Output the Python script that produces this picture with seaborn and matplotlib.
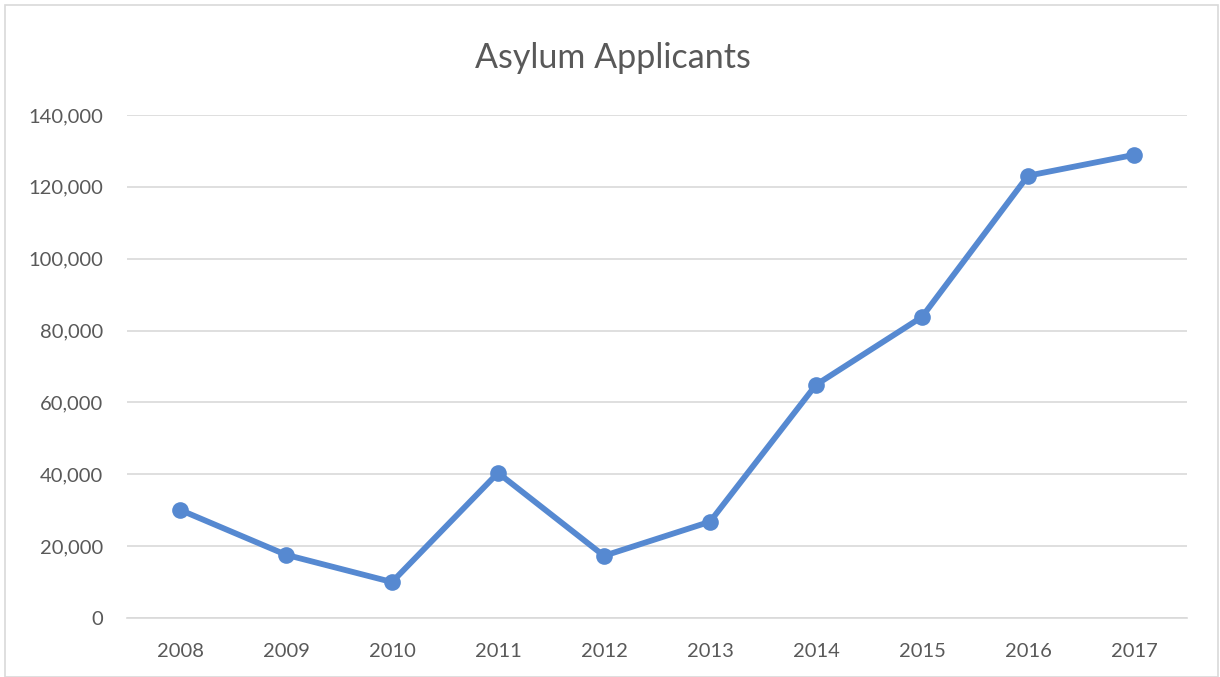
import matplotlib
matplotlib.use("Agg")
import matplotlib.pyplot as plt
import seaborn as sns
import pandas as pd
from matplotlib.ticker import FuncFormatter
from matplotlib.patches import Rectangle

years = [2008, 2009, 2010, 2011, 2012, 2013, 2014, 2015, 2016, 2017]
applicants = [30100, 17600, 10000, 40400, 17300, 26800, 64900, 83800, 123100, 128900]
y_ticks = [0, 20000, 40000, 60000, 80000, 100000, 120000, 140000]
title = "Asylum Applicants"

sns.set_theme(style="white")
plt.rcParams['font.family'] = ['Lato', 'DejaVu Sans']

df = pd.DataFrame({"year": years, "applicants": applicants})

fig = plt.figure(figsize=(12.2, 6.77), dpi=100)
ax = fig.add_axes([127/1220, 1-618/677, (1187-127)/1220, (618-115)/677])

color = "#5689D1"
sns.lineplot(data=df, x="year", y="applicants", ax=ax, color=color,
             linewidth=4.2, marker="o", markersize=12, markeredgewidth=0)

ax.set_xlim(years[0]-0.5, years[-1]+0.5)
ax.set_ylim(y_ticks[0], y_ticks[-1])
ax.set_xticks(years)
ax.set_xticklabels([str(y) for y in years])
ax.set_yticks(y_ticks)
ax.yaxis.set_major_formatter(FuncFormatter(lambda v, p: f"{int(v):,}"))
ax.grid(axis="y", color="#d9d9d9", linewidth=1.2)
ax.set_axisbelow(True)
for s in ["top", "right", "left"]:
    ax.spines[s].set_visible(False)
ax.spines["bottom"].set_color("#d9d9d9")
ax.spines["bottom"].set_linewidth(1.2)
ax.tick_params(axis="both", length=0, colors="#595959", labelsize=14.5)
ax.tick_params(axis="y", pad=17)
ax.tick_params(axis="x", pad=18)
ax.set_xlabel("")
ax.set_ylabel("")

fig.text(0.5025, 1-58/677, title, ha="center", va="center", fontsize=24.5, color="#595959")

fig.patches.append(Rectangle((5/1220, 0.0), (1218-5)/1220, 1-5/677, transform=fig.transFigure,
                             fill=False, edgecolor="#d9d9d9", linewidth=1.2))

fig.savefig("out.png", dpi=100)
